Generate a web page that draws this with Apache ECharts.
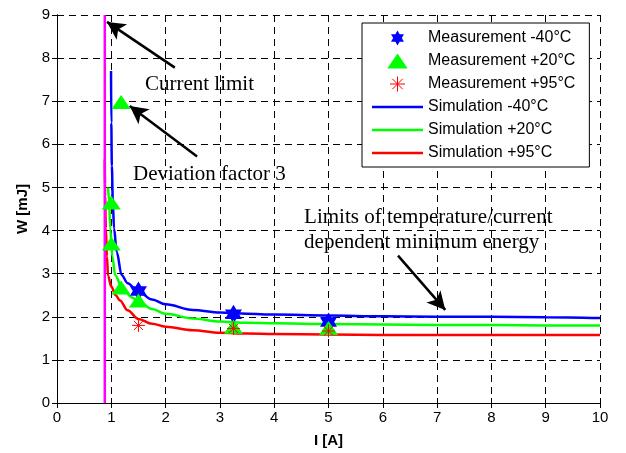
<!DOCTYPE html>
<html>
<head>
<meta charset="utf-8">
<script src="https://cdn.jsdelivr.net/npm/echarts@6/dist/echarts.min.js"></script>
<style>
html,body{margin:0;padding:0;background:#fff;}
#chart{width:626px;height:453px;}
</style>
</head>
<body>
<div id="chart"></div>
<script>
// ---- data ----
const xTicks = [0,1,2,3,4,5,6,7,8,9,10];
const yTicks = [0,1,2,3,4,5,6,7,8,9];

const measMinus40 = [[1.5,2.6],[3.25,2.06],[5.0,1.88]];
const measPlus20 = [[1.0,4.65],[1.0,3.7],[1.18,6.98],[1.18,2.68],[1.5,2.38],[3.25,1.77],[5.0,1.74]];
const measPlus95 = [[1.5,1.8],[3.25,1.73],[5.0,1.67]];

const simMinus40 = [[0.995,7.7],[1.0,6.5],[1.01,5.5],[1.03,4.6],[1.05,4.05],[1.1,3.5],[1.19,2.97],[1.3,2.78],[1.5,2.58],[1.75,2.4],[2.0,2.29],[2.5,2.16],[3.0,2.1],[3.5,2.07],[4.0,2.05],[5.0,2.03],[6.0,2.01],[7.0,2.0],[8.0,2.0],[9.0,1.99],[10.0,1.97]];
const simPlus20 = [[0.94,5.0],[0.96,4.7],[0.98,4.05],[1.02,3.4],[1.07,2.97],[1.2,2.66],[1.38,2.45],[1.5,2.36],[1.75,2.18],[2.0,2.07],[2.5,1.96],[3.0,1.89],[3.5,1.86],[4.0,1.85],[5.0,1.83],[6.0,1.82],[7.0,1.81],[8.0,1.81],[9.0,1.8],[10.0,1.8]];
const simPlus95 = [[0.88,5.65],[0.885,4.8],[0.9,4.05],[0.92,3.4],[0.94,2.95],[1.0,2.7],[1.08,2.5],[1.16,2.38],[1.3,2.15],[1.5,1.95],[1.75,1.84],[2.0,1.77],[2.5,1.69],[3.0,1.63],[3.5,1.61],[4.0,1.6],[5.0,1.59],[6.0,1.58],[7.0,1.58],[8.0,1.58],[9.0,1.58],[10.0,1.58]];
const currentLimit = [[0.88,0],[0.88,9]];

const seriesNames = ['Measurement -40°C','Measurement +20°C','Measurement +95°C','Simulation -40°C','Simulation +20°C','Simulation +95°C'];

const arrows = [
  [[2.17,7.78],[0.92,8.84]],
  [[2.58,5.72],[1.34,6.89]],
  [[6.28,3.42],[7.15,2.16]]
];
const notes = [
  {text:'Current limit', coord:[1.62,7.38]},
  {text:'Deviation factor 3', coord:[1.4,5.29]},
  {text:'Limits of temperature/current\ndependent minimum energy', coord:[4.55,4.02]}
];

// ---- symbols ----
const hexagram = 'path://M0,-100L28.87,-50L86.6,-50L57.7,0L86.6,50L28.87,50L0,100L-28.87,50L-86.6,50L-57.7,0L-86.6,-50L-28.87,-50Z';
const triangle = 'path://M95,0L190,140L0,140Z';
const asterisk = 'path://M0,-100L0,100M-100,0L100,0M-70,-70L70,70M-70,70L70,-70';
const lineIcon = 'path://M0,0L200,0L200,10L0,10Z';

const chart = echarts.init(document.getElementById('chart'));

const axisCommon = {
  type:'value',
  axisLine:{show:true,lineStyle:{color:'#000',width:1}},
  axisTick:{show:true,inside:true,length:5,lineStyle:{color:'#000'}},
};

const simLine = (name, data, color) => ({
  name, type:'line', data, showSymbol:false, symbol:'none',
  smooth:0.35, smoothMonotone:'x',
  lineStyle:{color, width:2.5}, itemStyle:{color}, z:2
});

const option = {
  animation:false,
  backgroundColor:'#fff',
  grid:{left:57,right:26,top:15,bottom:46,containLabel:false},
  xAxis:[
    Object.assign({}, axisCommon, {
      min:0,max:10,interval:1,position:'bottom',
      name:'I [A]',nameLocation:'middle',nameGap:30,
      nameTextStyle:{fontFamily:'Liberation Sans',fontSize:15,fontWeight:'bold',color:'#000'},
      axisLabel:{fontFamily:'Liberation Sans',fontSize:15,color:'#000',margin:7,formatter:v=>xTicks.indexOf(v)>=0?String(v):''},
      splitLine:{show:true,lineStyle:{color:'#000',width:1,type:[7,5]}}
    }),
    Object.assign({}, axisCommon, {
      min:0,max:10,interval:1,position:'top',
      axisLabel:{show:false},splitLine:{show:false}
    })
  ],
  yAxis:[
    Object.assign({}, axisCommon, {
      min:0,max:9,interval:1,position:'left',
      name:'W [mJ]',nameLocation:'middle',nameGap:26,nameRotate:90,
      nameTextStyle:{fontFamily:'Liberation Sans',fontSize:15,fontWeight:'bold',color:'#000'},
      axisLabel:{fontFamily:'Liberation Sans',fontSize:15,color:'#000',margin:7,formatter:v=>yTicks.indexOf(v)>=0?String(v):''},
      splitLine:{show:true,lineStyle:{color:'#000',width:1,type:[7,5]}}
    }),
    Object.assign({}, axisCommon, {
      min:0,max:9,interval:1,position:'right',
      axisLabel:{show:false},splitLine:{show:false}
    })
  ],
  legend:{
    orient:'vertical',left:362,top:23,
    padding:[7,14,6,10],
    itemWidth:51,itemHeight:15,itemGap:7,
    backgroundColor:'#fff',borderColor:'#000',borderWidth:1,borderRadius:0,
    symbolKeepAspect:true,
    textStyle:{fontFamily:'Liberation Sans',fontSize:16,color:'#000'},
    selectedMode:false,
    data:[
      {name:seriesNames[0],icon:hexagram},
      {name:seriesNames[1],icon:triangle},
      {name:seriesNames[2],icon:asterisk,itemStyle:{color:'transparent',borderColor:'#f00',borderWidth:1}},
      {name:seriesNames[3],icon:lineIcon},
      {name:seriesNames[4],icon:lineIcon},
      {name:seriesNames[5],icon:lineIcon}
    ]
  },
  series:[
    simLine(seriesNames[3], simMinus40, '#0000ff'),
    simLine(seriesNames[4], simPlus20, '#00ff00'),
    simLine(seriesNames[5], simPlus95, '#ff0000'),
    {name:'limit',type:'line',data:currentLimit,showSymbol:false,symbol:'none',
     lineStyle:{color:'#ff00ff',width:2.5},z:3,
     markLine:{
       silent:true,symbol:['none','arrow'],symbolSize:[14,18],
       lineStyle:{color:'#000',width:2.5,type:'solid'},
       label:{show:false},
       data:arrows.map(a=>[{coord:a[0]},{coord:a[1]}])
     },
     markPoint:{
       silent:true,symbol:'circle',symbolSize:0,
       label:{show:true,position:[0,0],align:'left',verticalAlign:'middle',
         fontFamily:'Liberation Serif',fontSize:21,lineHeight:25,color:'#000'},
       data:notes.map(n=>({coord:n.coord,label:{formatter:n.text}}))
     }},
    {name:seriesNames[0],type:'scatter',data:measMinus40,symbol:hexagram,symbolSize:[17,19],
     itemStyle:{color:'#0000ff',opacity:1},z:4},
    {name:seriesNames[1],type:'scatter',data:measPlus20,symbol:triangle,symbolSize:[19,14],
     itemStyle:{color:'#00ff00',opacity:1},z:5},
    {name:seriesNames[2],type:'scatter',data:measPlus95,symbol:asterisk,symbolSize:[13,13],
     itemStyle:{color:'transparent',borderColor:'#ff0000',borderWidth:1,opacity:1},z:6}
  ]
};
chart.setOption(option);
</script>
</body>
</html>
